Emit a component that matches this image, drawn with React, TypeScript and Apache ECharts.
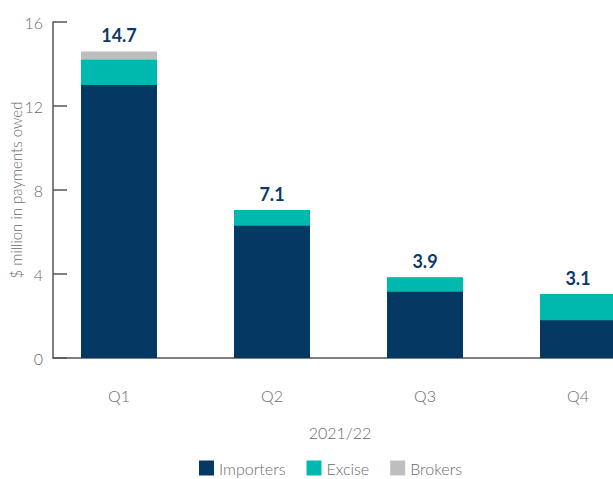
import React, { useEffect, useRef } from "react";
import * as echarts from "echarts";

const categories = ["Q1", "Q2", "Q3", "Q4"];
const importers = [13.0, 6.3, 3.15, 1.8];
const excise = [1.2, 0.75, 0.7, 1.25];
const brokers = [0.4, 0, 0, 0];
const totals = [14.7, 7.1, 3.9, 3.1];
const yTicks = [0, 4, 8, 12, 16];

const NAVY = "#063864";
const TEAL = "#00b9ae";
const GREY = "#bdbec0";
const TEXT = "#6a6a6a";
const FONT = "Lato";

export default function App() {
  const ref = useRef<HTMLDivElement>(null);
  useEffect(() => {
    document.body.style.margin = "0";
    const chart = echarts.init(ref.current!, undefined, { renderer: "svg" });
    // cumulative tops, drawn overlapping (back to front) to form the stack
    const cumExcise = importers.map((v, i) => v + excise[i]);
    const cumBrokers = cumExcise.map((v, i) => v + brokers[i]);
    const toPts = (arr: number[]) => arr.map((v, i) => [i, v]);
    chart.setOption({
      animation: false,
      textStyle: { fontFamily: FONT },
      grid: {
        left: 53,
        right: 0,
        top: 22,
        bottom: 121,
        containLabel: false,
        outerBoundsMode: "none",
      },
      legend: {
        left: 199,
        top: 460,
        padding: 0,
        itemWidth: 15,
        itemHeight: 15,
        itemGap: 21,
        icon: "rect",
        textStyle: { color: TEXT, fontSize: 16, fontWeight: 300, fontFamily: FONT },
        data: ["Importers", "Excise", "Brokers"],
      },
      xAxis: {
        type: "value",
        min: -0.4314,
        max: 3.2288,
        splitLine: { show: false },
        axisLine: { show: true, onZero: false, lineStyle: { color: "#555", width: 1.5 } },
        axisTick: { show: false },
        axisLabel: {
          customValues: [0, 1, 2, 3],
          formatter: (v: number) => categories[Math.round(v)] ?? "",
          color: TEXT,
          fontSize: 16,
          fontWeight: 300,
          margin: 29,
        },
        name: "2021/22",
        nameLocation: "middle",
        nameGap: 66,
        nameMoveOverlap: false,
        nameTextStyle: { color: TEXT, fontSize: 16, fontWeight: 300, padding: [0, 0, 0, 14] },
      },
      yAxis: {
        type: "value",
        min: yTicks[0],
        max: yTicks[yTicks.length - 1],
        interval: 4,
        splitLine: { show: false },
        axisLine: { show: true, onZero: false, lineStyle: { color: "#555", width: 1.5 } },
        axisTick: { show: true, inside: true, length: 14, lineStyle: { color: "#555", width: 1.5 } },
        axisLabel: { color: TEXT, fontSize: 16, fontWeight: 300, margin: 10 },
        name: "$ million in payments owed",
        nameLocation: "middle",
        nameGap: 30,
        nameMoveOverlap: false,
        nameTextStyle: { color: TEXT, fontSize: 15, fontWeight: 300 },
      },
      series: [
        {
          name: "Brokers",
          type: "bar",
          barWidth: 76,
          barGap: "-100%",
          z: 1,
          itemStyle: { color: GREY },
          data: toPts(cumBrokers),
          label: {
            show: true,
            position: "top",
            distance: 7,
            formatter: (p: any) => totals[p.dataIndex].toFixed(1),
            color: "#0b3a68",
            fontSize: 18,
            fontWeight: "bold",
            fontFamily: FONT,
          },
        },
        {
          name: "Excise",
          type: "bar",
          barWidth: 76,
          barGap: "-100%",
          z: 2,
          itemStyle: { color: TEAL },
          data: toPts(cumExcise),
        },
        {
          name: "Importers",
          type: "bar",
          barWidth: 76,
          barGap: "-100%",
          z: 3,
          itemStyle: { color: NAVY },
          data: toPts(importers),
        },
      ],
    });
    return () => chart.dispose();
  }, []);
  return (
    <div
      ref={ref}
      style={{ position: "absolute", left: 0, top: 0, width: 613, height: 479 }}
    />
  );
}
